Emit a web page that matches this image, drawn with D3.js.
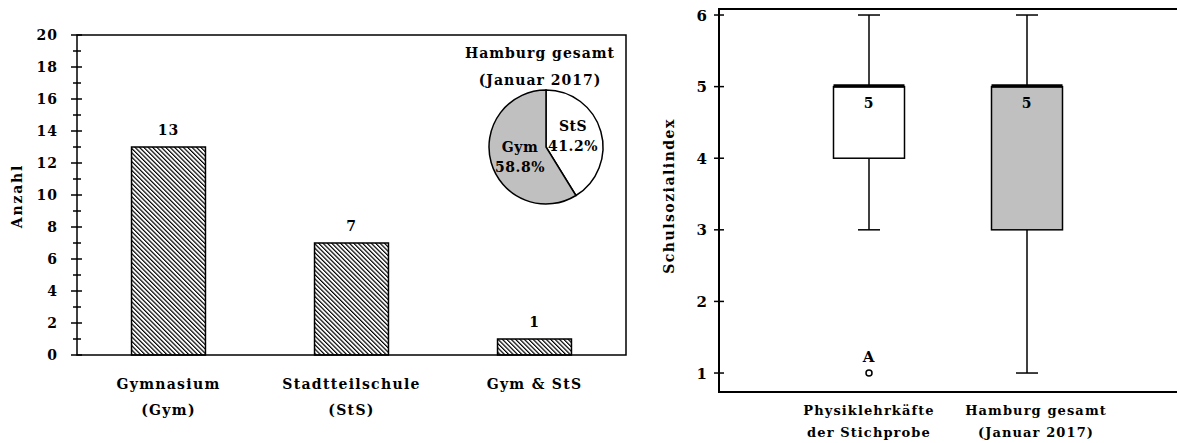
<!DOCTYPE html>
<html>
<head>
<meta charset="utf-8">
<script src="https://cdn.jsdelivr.net/npm/d3@7"></script>
<style>
  body { margin: 0; background: #fff; }
  text { font-family: "DejaVu Serif", serif; font-weight: bold; fill: #000; font-size: 14px; letter-spacing: 1px; }
</style>
</head>
<body>
<div class="container"></div>
<script>
// bar chart data
const schoolTypes = ['Gymnasium (Gym)', 'Stadtteilschule (StS)', 'Gym & StS'];
const schoolLabels = [['Gymnasium', '(Gym)'], ['Stadtteilschule', '(StS)'], ['Gym & StS']];
const schoolCounts = [13, 7, 1];
const countTicks = [0, 2, 4, 6, 8, 10, 12, 14, 16, 18, 20];

// pie data (Hamburg gesamt)
const pieNames = ['StS', 'Gym'];
const pieShares = [41.2, 58.8];
const pieColors = ['#ffffff', '#c0c0c0'];

// box plot data
const groups = ['Physiklehrkäfte der Stichprobe', 'Hamburg gesamt (Januar 2017)'];
const groupLabels = [['Physiklehrkäfte', 'der Stichprobe'], ['Hamburg gesamt', '(Januar 2017)']];
const boxMin = [3, 1];
const boxQ1 = [4, 3];
const boxMedian = [5, 5];
const boxQ3 = [5, 5];
const boxMax = [6, 6];
const boxFill = ['#ffffff', '#c0c0c0'];
const outliers = [{ group: 0, value: 1, label: 'A' }];
const indexTicks = [1, 2, 3, 4, 5, 6];

const svg = d3.select('.container')
  .append('svg')
  .attr('width', 1177)
  .attr('height', 443);

// hatch pattern
svg.append('defs')
  .append('pattern')
  .attr('id', 'hatch')
  .attr('patternUnits', 'userSpaceOnUse')
  .attr('width', 3.1)
  .attr('height', 10)
  .attr('patternTransform', 'rotate(-45)')
  .call(p => p.append('rect').attr('width', 3.1).attr('height', 10).attr('fill', '#fff'))
  .append('line')
  .attr('x1', 0.6).attr('y1', 0).attr('x2', 0.6).attr('y2', 10)
  .attr('stroke', '#000').attr('stroke-width', 1.2);

/*** left: bar chart ***/
const L = { left: 77, right: 626, top: 35, bottom: 355 };

const x = d3.scaleBand()
  .domain(schoolTypes)
  .range([L.left, L.right])
  .paddingInner(0.596)
  .paddingOuter(0.298);

const y = d3.scaleLinear()
  .domain([0, 20])
  .range([L.bottom, L.top]);

const left = svg.append('g');

// bars
left.selectAll('rect.bar')
  .data(schoolCounts)
  .join('rect')
  .attr('class', 'bar')
  .attr('x', (d, i) => x(schoolTypes[i]))
  .attr('y', d => y(d))
  .attr('width', x.bandwidth())
  .attr('height', d => y(0) - y(d))
  .attr('fill', 'url(#hatch)')
  .attr('stroke', '#000')
  .attr('stroke-width', 1.5);

left.selectAll('text.val')
  .data(schoolCounts)
  .join('text')
  .attr('class', 'val')
  .attr('x', (d, i) => x(schoolTypes[i]) + x.bandwidth() / 2)
  .attr('y', d => y(d) - 12)
  .attr('text-anchor', 'middle')
  .text(d => d);

// frame
left.append('path')
  .attr('d', `M${L.left},${L.top}H${L.right}V${L.bottom}H${L.left}Z`)
  .attr('fill', 'none')
  .attr('stroke', '#000')
  .attr('stroke-width', 1.5);

// y ticks: major every 2, minor in between
const minorTicks = d3.range(1, 20, 2);
left.selectAll('line.minor')
  .data(minorTicks)
  .join('line')
  .attr('x1', L.left - 4).attr('x2', L.left + 4)
  .attr('y1', d => y(d)).attr('y2', d => y(d))
  .attr('stroke', '#000').attr('stroke-width', 1.5);

left.selectAll('line.major')
  .data(countTicks)
  .join('line')
  .attr('x1', L.left - 6).attr('x2', L.left + 5)
  .attr('y1', d => y(d)).attr('y2', d => y(d))
  .attr('stroke', '#000').attr('stroke-width', 1.5);

left.selectAll('text.tick')
  .data(countTicks)
  .join('text')
  .attr('x', L.left - 19)
  .attr('y', d => y(d) + 5)
  .attr('text-anchor', 'end')
  .text(d => d);

// x labels
schoolLabels.forEach((lines, i) => {
  lines.forEach((t, j) => {
    left.append('text')
      .attr('x', x(schoolTypes[i]) + x.bandwidth() / 2)
      .attr('y', 389 + j * 26)
      .attr('text-anchor', 'middle')
      .style('letter-spacing', '1.3px')
      .text(t);
  });
});

left.append('text')
  .attr('transform', `translate(22,196) rotate(-90)`)
  .attr('text-anchor', 'middle')
  .style('letter-spacing', '1.8px')
  .text('Anzahl');

// pie inset
const pieCx = 546, pieCy = 147, pieR = 57;
const pie = d3.pie().sort(null)(pieShares);
const arc = d3.arc().innerRadius(0).outerRadius(pieR);
const pg = left.append('g').attr('transform', `translate(${pieCx},${pieCy})`);

pg.selectAll('path')
  .data(pie)
  .join('path')
  .attr('d', arc)
  .attr('fill', (d, i) => pieColors[i])
  .attr('stroke', '#000')
  .attr('stroke-width', 1.5);

const pieLabelPos = [[27, -16], [-26, 5]];
pie.forEach((d, i) => {
  const [dx, dy] = pieLabelPos[i];
  pg.append('text')
    .attr('x', dx).attr('y', dy)
    .attr('text-anchor', 'middle')
    .style('letter-spacing', '0.5px')
    .text(pieNames[i]);
  pg.append('text')
    .attr('x', dx).attr('y', dy + 20)
    .attr('text-anchor', 'middle')
    .style('letter-spacing', '0.5px')
    .text(pieShares[i].toFixed(1) + '%');
});

left.append('text')
  .attr('x', 540).attr('y', 58)
  .attr('text-anchor', 'middle')
  .text('Hamburg gesamt');
left.append('text')
  .attr('x', 540).attr('y', 85)
  .attr('text-anchor', 'middle')
  .text('(Januar 2017)');

/*** right: box plot ***/
const R = { left: 719, right: 1177, top: 9, bottom: 392 };

const yb = d3.scaleLinear()
  .domain([0.735, 6.084])
  .range([R.bottom, R.top]);

const xb = d3.scalePoint()
  .domain(groups)
  .range([869, 1027]);

const boxW = 71, capW = 22;
const right = svg.append('g');

right.append('path')
  .attr('d', `M${R.right},${R.top}H${R.left}V${R.bottom}H${R.right}`)
  .attr('fill', 'none')
  .attr('stroke', '#000')
  .attr('stroke-width', 2);

right.selectAll('line.tick')
  .data(indexTicks)
  .join('line')
  .attr('x1', R.left - 5).attr('x2', R.left + 5)
  .attr('y1', d => yb(d)).attr('y2', d => yb(d))
  .attr('stroke', '#000').attr('stroke-width', 1.5);

right.selectAll('text.tick')
  .data(indexTicks)
  .join('text')
  .attr('x', R.left - 11)
  .attr('y', d => yb(d) + 5.5)
  .attr('text-anchor', 'end')
  .style('font-size', '15px')
  .text(d => d);

right.append('text')
  .attr('transform', `translate(674,196) rotate(-90)`)
  .attr('text-anchor', 'middle')
  .style('letter-spacing', '1.5px')
  .text('Schulsozialindex');

groups.forEach((g, i) => {
  const cx = xb(g);
  const box = right.append('g');
  // whiskers
  box.append('line')
    .attr('x1', cx).attr('x2', cx)
    .attr('y1', yb(boxMax[i])).attr('y2', yb(boxQ3[i]))
    .attr('stroke', '#000').attr('stroke-width', 1.5);
  box.append('line')
    .attr('x1', cx).attr('x2', cx)
    .attr('y1', yb(boxQ1[i])).attr('y2', yb(boxMin[i]))
    .attr('stroke', '#000').attr('stroke-width', 1.5);
  [boxMax[i], boxMin[i]].forEach(v => {
    box.append('line')
      .attr('x1', cx - capW / 2).attr('x2', cx + capW / 2)
      .attr('y1', yb(v)).attr('y2', yb(v))
      .attr('stroke', '#000').attr('stroke-width', 1.5);
  });
  // box
  box.append('rect')
    .attr('x', cx - boxW / 2)
    .attr('y', yb(boxQ3[i]))
    .attr('width', boxW)
    .attr('height', yb(boxQ1[i]) - yb(boxQ3[i]))
    .attr('fill', boxFill[i])
    .attr('stroke', '#000').attr('stroke-width', 1.5);
  // median
  box.append('line')
    .attr('x1', cx - boxW / 2).attr('x2', cx + boxW / 2)
    .attr('y1', yb(boxMedian[i]) - 0.5).attr('y2', yb(boxMedian[i]) - 0.5)
    .attr('stroke', '#000').attr('stroke-width', 3.5);
  box.append('text')
    .attr('x', cx).attr('y', yb(boxMedian[i]) + 21)
    .attr('text-anchor', 'middle')
    .text(boxMedian[i]);
  // labels
  groupLabels[i].forEach((t, j) => {
    right.append('text')
      .attr('x', cx + i * 9)
      .attr('y', 415 + j * 22)
      .attr('text-anchor', 'middle')
      .style('font-size', '13px')
      .style('letter-spacing', '1.1px')
      .text(t);
  });
});

outliers.forEach(o => {
  const cx = xb(groups[o.group]);
  right.append('circle')
    .attr('cx', cx).attr('cy', yb(o.value))
    .attr('r', 3)
    .attr('fill', '#fff')
    .attr('stroke', '#000').attr('stroke-width', 1.5);
  right.append('text')
    .attr('x', cx).attr('y', yb(o.value) - 11)
    .attr('text-anchor', 'middle')
    .style('font-size', '15px')
    .text(o.label);
});
</script>
</body>
</html>
